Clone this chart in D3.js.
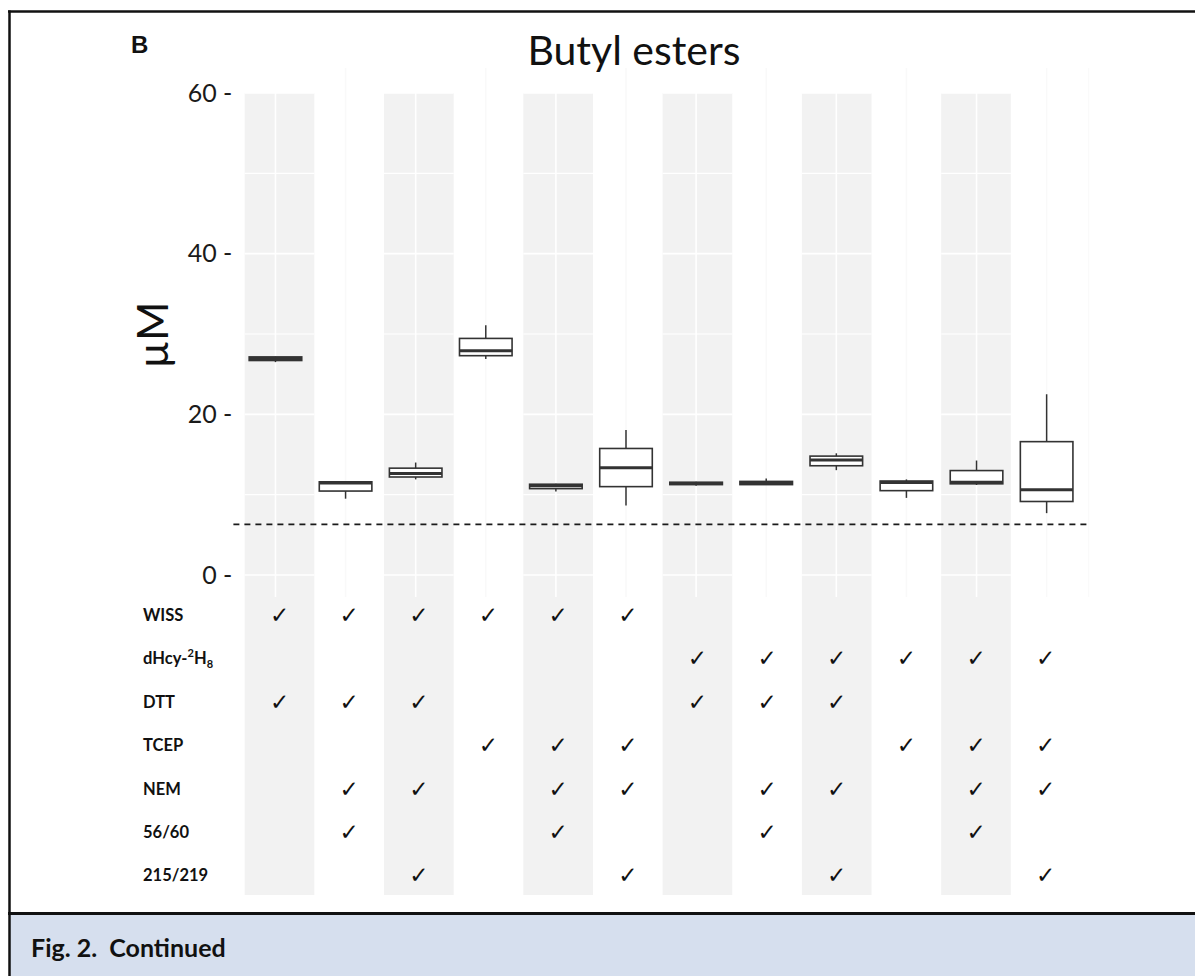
<!DOCTYPE html>
<html>
<head>
<meta charset="utf-8">
<script src="https://cdn.jsdelivr.net/npm/d3@7"></script>
<style>
  html, body { margin: 0; padding: 0; background: #ffffff; }
  svg { display: block; }
</style>
</head>
<body>
<script>
// ---------------- data ----------------
const conditions = ["1","2","3","4","5","6","7","8","9","10","11","12"];
const whiskerLow  = [26.5,  9.5, 11.9, 26.9, 10.4,  8.65, 11.1, 11.2, 13.05,  9.6, 11.2,  7.7];
const quartile1   = [26.7, 10.45, 12.2, 27.3, 10.75, 11.0, 11.25, 11.25, 13.6, 10.5, 11.35, 9.15];
const medians     = [26.95, 11.45, 12.65, 27.9, 11.1, 13.35, 11.4, 11.45, 14.3, 11.5, 11.55, 10.6];
const quartile3   = [27.15, 11.6, 13.3, 29.45, 11.3, 15.75, 11.55, 11.65, 14.8, 11.7, 13.0, 16.6];
const whiskerHigh = [27.2, 11.65, 14.0, 31.1, 11.35, 18.05, 11.6, 12.0, 15.15, 11.9, 14.25, 22.5];
const threshold = 6.3;
const yTicks = [0, 20, 40, 60];
const yMinorTicks = [10, 30, 50];
const yDomain = [0, 60];

const reagentLabels = ["WISS", "dHcy", "DTT", "TCEP", "NEM", "56/60", "215/219"];
const checkWISS   = [1,1,1,1,1,1,0,0,0,0,0,0];
const checkDHcy   = [0,0,0,0,0,0,1,1,1,1,1,1];
const checkDTT    = [1,1,1,0,0,0,1,1,1,0,0,0];
const checkTCEP   = [0,0,0,1,1,1,0,0,0,1,1,1];
const checkNEM    = [0,1,1,0,1,1,0,1,1,0,1,1];
const check5660   = [0,1,0,0,1,0,0,1,0,0,1,0];
const check215219 = [0,0,1,0,0,1,0,0,1,0,0,1];
const checkRows = [checkWISS, checkDHcy, checkDTT, checkTCEP, checkNEM, check5660, check215219];

const titleText = "Butyl esters";
const panelLetter = "B";
const yLabel = "µM";
const captionText = "Fig. 2.  Continued";

// ---------------- layout ----------------
const W = 1195, H = 976;
const svg = d3.select("body").append("svg").attr("width", W).attr("height", H);

const panel = { left: 233.4, right: 1088.7 };
const x = d3.scalePoint().domain(conditions).range([panel.left, panel.right]).padding(0.6);
const step = x.step();
const boxW = step * 0.75;
const y = d3.scaleLinear().domain(yDomain).range([575, 93]);

const xt = d3.scaleBand().domain(conditions).range([244.7, 244.7 + 12 * 69.65]).padding(0);

const rowY = d3.scalePoint().domain(reagentLabels).range([621, 881.4]);

// background
svg.append("rect").attr("x", 0).attr("y", 0).attr("width", W).attr("height", H).attr("fill", "#ffffff");

// caption area
svg.append("rect").attr("x", 9).attr("y", 915).attr("width", W - 9).attr("height", H - 915).attr("fill", "#d6dfee");

// gray bands (odd columns)
const bandTop = 93, bandBottom = 895;
svg.append("g").selectAll("rect")
  .data(conditions.filter((d, i) => i % 2 === 0))
  .join("rect")
  .attr("x", d => xt(d))
  .attr("y", bandTop)
  .attr("width", xt.bandwidth())
  .attr("height", bandBottom - bandTop)
  .attr("fill", "#f2f2f2");

// faint vertical lines in white columns
svg.append("g").selectAll("line")
  .data(conditions.filter((d, i) => i % 2 === 1))
  .join("line")
  .attr("x1", d => x(d)).attr("x2", d => x(d))
  .attr("y1", 68).attr("y2", 597)
  .attr("stroke", "#f9f9f9").attr("stroke-width", 1.5);
svg.append("line")
  .attr("x1", panel.right).attr("x2", panel.right)
  .attr("y1", 68).attr("y2", 597)
  .attr("stroke", "#fafafa").attr("stroke-width", 1.2);

// white gridlines inside gray bands
const grid = svg.append("g");
conditions.forEach((c, i) => {
  if (i % 2 !== 0) return;
  const x0 = xt(c), x1 = xt(c) + xt.bandwidth();
  yTicks.forEach(t => {
    grid.append("line").attr("x1", x0).attr("x2", x1).attr("y1", y(t)).attr("y2", y(t))
      .attr("stroke", "#ffffff").attr("stroke-width", 1.6);
  });
  yMinorTicks.forEach(t => {
    grid.append("line").attr("x1", x0).attr("x2", x1).attr("y1", y(t)).attr("y2", y(t))
      .attr("stroke", "#ffffff").attr("stroke-width", 1.1);
  });
  grid.append("line").attr("x1", x(c)).attr("x2", x(c)).attr("y1", bandTop).attr("y2", 597)
    .attr("stroke", "#ffffff").attr("stroke-width", 1.6);
});

// dashed threshold line
svg.append("line")
  .attr("x1", panel.left).attr("x2", panel.right)
  .attr("y1", y(threshold)).attr("y2", y(threshold))
  .attr("stroke", "#1a1a1a").attr("stroke-width", 1.6)
  .attr("stroke-dasharray", "6,5");

// boxes
const boxes = conditions.map((c, i) => ({
  c, lo: whiskerLow[i], q1: quartile1[i], med: medians[i], q3: quartile3[i], hi: whiskerHigh[i]
}));
const bg = svg.append("g").selectAll("g").data(boxes).join("g");
const stroke = "#333333";
bg.append("line")
  .attr("x1", d => x(d.c)).attr("x2", d => x(d.c))
  .attr("y1", d => y(d.hi)).attr("y2", d => y(d.q3))
  .attr("stroke", stroke).attr("stroke-width", 1.5);
bg.append("line")
  .attr("x1", d => x(d.c)).attr("x2", d => x(d.c))
  .attr("y1", d => y(d.q1)).attr("y2", d => y(d.lo))
  .attr("stroke", stroke).attr("stroke-width", 1.5);
bg.append("rect")
  .attr("x", d => x(d.c) - boxW / 2)
  .attr("y", d => y(d.q3))
  .attr("width", boxW)
  .attr("height", d => Math.max(0.5, y(d.q1) - y(d.q3)))
  .attr("fill", "#ffffff").attr("stroke", stroke).attr("stroke-width", 1.6);
bg.append("line")
  .attr("x1", d => x(d.c) - boxW / 2).attr("x2", d => x(d.c) + boxW / 2)
  .attr("y1", d => y(d.med)).attr("y2", d => y(d.med))
  .attr("stroke", stroke).attr("stroke-width", 3);

// y axis
const yAxis = d3.axisLeft(y).tickValues(yTicks).tickSize(0).tickPadding(1)
  .tickFormat(d => d + " -");
const ya = svg.append("g").attr("transform", `translate(${panel.left},0)`).call(yAxis);
ya.select(".domain").remove();
ya.selectAll("text")
  .attr("font-family", "Lato, 'Open Sans', sans-serif")
  .attr("font-size", 25)
  .attr("fill", "#1a1a1a");

// y label
svg.append("text")
  .attr("transform", "translate(168,335) rotate(-90)")
  .attr("text-anchor", "middle")
  .attr("font-family", "Lato, 'Open Sans', sans-serif")
  .attr("font-size", 42)
  .attr("fill", "#111")
  .text(yLabel);

// title
svg.append("text")
  .attr("x", 634).attr("y", 65)
  .attr("text-anchor", "middle")
  .attr("font-family", "Lato, 'Open Sans', sans-serif")
  .attr("font-size", 41)
  .attr("fill", "#111")
  .text(titleText);

// panel letter
svg.append("text")
  .attr("x", 131).attr("y", 53)
  .attr("font-family", "'Liberation Sans', Arial, sans-serif")
  .attr("font-weight", "bold")
  .attr("font-size", 24)
  .attr("fill", "#111")
  .text(panelLetter);

// table row labels
const labG = svg.append("g")
  .attr("font-family", "Lato, 'Open Sans', sans-serif")
  .attr("font-weight", "bold")
  .attr("font-size", 16.5)
  .attr("fill", "#111");
reagentLabels.forEach(r => {
  const t = labG.append("text").attr("x", 143).attr("y", rowY(r));
  if (r === "dHcy") {
    t.append("tspan").text("dHcy-");
    t.append("tspan").attr("font-size", 11).attr("dy", -7).text("2");
    t.append("tspan").attr("dy", 7).text("H");
    t.append("tspan").attr("font-size", 11).attr("dy", 4).text("8");
  } else {
    t.text(r);
  }
});

// checks
const chkG = svg.append("g")
  .attr("font-family", "'DejaVu Sans', sans-serif")
  .attr("font-size", 23)
  .attr("fill", "#111")
  .attr("text-anchor", "middle");
checkRows.forEach((row, ri) => {
  row.forEach((v, ci) => {
    if (!v) return;
    chkG.append("text")
      .attr("x", xt(conditions[ci]) + xt.bandwidth() / 2)
      .attr("y", rowY(reagentLabels[ri]) + 2)
      .text("✓");
  });
});

// frame
svg.append("line").attr("x1", 8).attr("x2", W).attr("y1", 11.5).attr("y2", 11.5)
  .attr("stroke", "#111").attr("stroke-width", 2.5);
svg.append("line").attr("x1", 9.5).attr("x2", 9.5).attr("y1", 10.5).attr("y2", H)
  .attr("stroke", "#111").attr("stroke-width", 2.5);
svg.append("line").attr("x1", 8).attr("x2", W).attr("y1", 913.5).attr("y2", 913.5)
  .attr("stroke", "#111").attr("stroke-width", 3);

// caption
svg.append("text")
  .attr("x", 31).attr("y", 957)
  .attr("font-family", "Lato, 'Open Sans', sans-serif")
  .attr("font-weight", "bold")
  .attr("font-size", 25)
  .attr("fill", "#111")
  .attr("xml:space", "preserve")
  .style("white-space", "pre")
  .text(captionText);
</script>
</body>
</html>
